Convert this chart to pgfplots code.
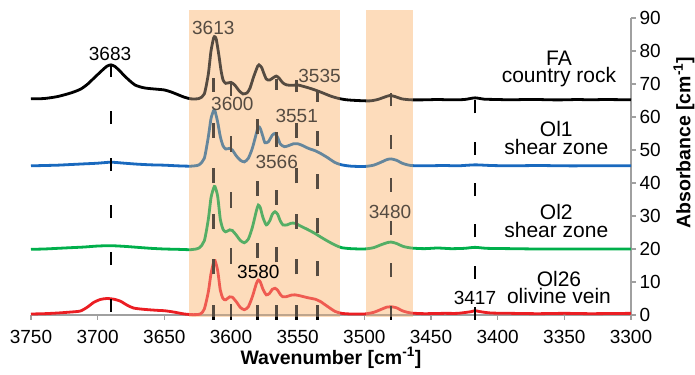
\documentclass[border=0pt]{standalone}
\usepackage{fontspec}
\setmainfont{Liberation Sans}
\usepackage{pgfplots}
\pgfplotsset{compat=1.18}
\definecolor{bandmul}{RGB}{252,218,184}
\definecolor{bandover}{RGB}{255,225,195}
\definecolor{axgray}{RGB}{160,160,160}
\definecolor{olblue}{RGB}{25,105,190}
\definecolor{olgreen}{RGB}{0,175,75}
\definecolor{olred}{RGB}{235,30,35}
\newcommand{\tkfont}{\fontsize{19}{22}\selectfont}
\newcommand{\smfont}{\fontsize{21}{17.5}\selectfont}
\begin{document}
\begin{tikzpicture}
\begin{axis}[name=ax, width=600pt, height=297pt, scale only axis,
 x dir=reverse, xmin=3300, xmax=3750, ymin=0, ymax=90,
 axis x line*=bottom, axis y line*=right,
 axis line style={axgray, line width=1.6pt, -},
 xtick={3300,3350,...,3750}, ytick={0,10,...,90},
 tick align=outside, major tick length=5pt, tick style={axgray, line width=1.2pt},
 /pgf/number format/assume math mode=true, /pgf/number format/set thousands separator={},
 tick label style={font=\tkfont},
 xticklabel style={yshift=-7pt},
 clip=false,
 xlabel={\textbf{Wavenumber [cm\textsuperscript{-1}]}},
 ylabel={\textbf{Absorbance [cm\textsuperscript{-1}]}},
 every axis x label/.style={at={(rel axis cs:0.5,0)}, yshift=-43pt, anchor=center, font=\fontsize{19.5}{22}\selectfont},
 every axis y label/.style={at={(rel axis cs:1,0.58)}, xshift=53pt, rotate=90, anchor=center, font=\fontsize{19.5}{22}\selectfont},
]
% spectra
\addplot[black, line width=2.8pt, smooth, tension=0.4] coordinates {
(3750,65.5)(3740,65.6)(3730,66.2)(3720,67.3)(3713,68.4)(3708,69.8)(3703,71.7)(3697,74.0)(3693,75.4)(3690,75.8)(3687,75.3)(3683,73.8)(3680,72.5)(3676,71.0)(3672,69.7)(3667,69.0)(3663,68.7)(3655,68.4)(3650,68.2)(3645,67.6)(3640,66.8)(3635,66.0)(3630,65.5)(3624,65.6)(3620,67.0)(3617,73)(3615,80)(3613,84.0)(3612,84.3)(3611,83.5)(3609,78.5)(3607.5,74.2)(3606,71.3)(3604,70.2)(3600,70.5)(3597,69.6)(3594,68.0)(3591,67.0)(3588,67.3)(3585.8,68.7)(3583,72.2)(3580,75.4)(3579,75.8)(3577,75.0)(3575.8,73.7)(3573.5,71.5)(3571,71.2)(3568,72.0)(3566,72.4)(3564,71.8)(3561,70.3)(3558,69.7)(3554,69.6)(3550,69.7)(3545,69.2)(3540,68.6)(3535,67.9)(3530,67.1)(3525,66.3)(3520,65.7)(3515,65.3)(3510,65.1)(3500,64.9)(3495,64.9)(3490,65.3)(3485,66.0)(3481,66.5)(3477,66.2)(3472,65.5)(3465,65.2)(3455,65.2)(3445,65.3)(3435,65.2)(3425,65.3)(3417,65.8)(3410,65.4)(3400,65.3)(3390,65.2)(3380,65.3)(3370,65.3)(3360,65.2)(3350,65.2)(3340,65.3)(3330,65.2)(3320,65.3)(3300,65.2)};
\addplot[olblue, line width=2.8pt, smooth, tension=0.4] coordinates {
(3750,45.2)(3740,45.3)(3730,45.4)(3720,45.6)(3710,45.8)(3700,46.0)(3690,46.3)(3680,46.0)(3670,45.7)(3660,45.5)(3650,45.4)(3640,45.2)(3630,45.1)(3624,45.5)(3620,47.5)(3617,54)(3615,59.5)(3613,62.0)(3612,61.8)(3610,58.5)(3608,54.0)(3606,51.3)(3604,50.3)(3601,50.5)(3599,50.0)(3596,48.2)(3593,46.9)(3590,46.4)(3587,47.5)(3584,50.5)(3581,55)(3579.5,57.1)(3578,56.5)(3576,54)(3574.5,52.2)(3572,52.5)(3569,54.5)(3567,55.0)(3565,53.8)(3563,51.8)(3560,51.0)(3557,51.3)(3553,51.9)(3550,51.9)(3546,51.3)(3542,50.5)(3537,49.8)(3533,49.0)(3528,47.8)(3522,46.2)(3517,45.5)(3510,45.1)(3500,45.0)(3493,45.4)(3488,46.2)(3483,47.1)(3480,47.3)(3476,46.9)(3471,45.9)(3465,45.3)(3455,45.2)(3440,45.3)(3430,45.2)(3417,45.5)(3405,45.3)(3390,45.2)(3370,45.3)(3350,45.2)(3330,45.2)(3300,45.2)};
\addplot[olgreen, line width=2.8pt, smooth, tension=0.4] coordinates {
(3750,19.9)(3740,20.0)(3730,20.2)(3720,20.4)(3710,20.6)(3700,20.9)(3690,21.0)(3680,20.8)(3670,20.5)(3660,20.2)(3650,20.0)(3640,19.9)(3630,19.8)(3624,20.3)(3620,22.5)(3617,29)(3615,35.5)(3613,38.5)(3612,38.9)(3610,36)(3608,29)(3606,26.0)(3604,25.2)(3601,25.8)(3599,25.6)(3596,24.2)(3593,22.6)(3590,21.9)(3587,23.0)(3584,26.5)(3581,31.5)(3579.5,33.3)(3578,32.5)(3576,29.5)(3573.5,27.3)(3571,28.5)(3569,30.5)(3567,31.3)(3565,30.5)(3563,28.5)(3561,27.3)(3558,27.3)(3555,27.8)(3552,27.8)(3548,27.0)(3542,25.8)(3537,24.7)(3533,23.7)(3528,22.5)(3522,21.2)(3517,20.4)(3510,20.1)(3500,20.0)(3493,20.4)(3488,21.2)(3483,21.9)(3480,22.1)(3476,21.7)(3471,20.8)(3465,20.3)(3455,20.1)(3445,20.3)(3435,20.1)(3425,20.2)(3417,20.5)(3408,20.2)(3390,20.1)(3370,20.0)(3350,20.0)(3330,20.0)(3300,20.0)};
\addplot[olred, line width=2.8pt, smooth, tension=0.4] coordinates {
(3750,0.3)(3740,0.4)(3730,0.6)(3720,0.9)(3713,1.2)(3708,2.3)(3703,3.8)(3698,4.7)(3693,5.0)(3688,4.8)(3683,4.2)(3678,3.0)(3673,2.1)(3665,1.7)(3655,1.4)(3650,1.3)(3643,0.9)(3635,0.3)(3628,0.1)(3623,0.3)(3620,1.8)(3617,7)(3615,12.5)(3613,16.0)(3612,16.5)(3610,13.5)(3608,7.5)(3606,5.0)(3604,4.6)(3601,5.5)(3599,5.4)(3596,4.0)(3593,2.3)(3590,1.6)(3587,2.5)(3584,5.5)(3581,9.5)(3579.5,10.6)(3578,10.0)(3576,7.8)(3573.5,6.1)(3571,6.6)(3569,7.8)(3567,8.1)(3565,7.5)(3563,6.2)(3561,5.5)(3558,5.6)(3555,6.0)(3552,6.1)(3548,5.8)(3542,5.2)(3537,4.8)(3533,4.1)(3528,2.7)(3522,1.1)(3517,0.5)(3510,0.3)(3500,0.3)(3493,0.8)(3488,1.6)(3483,2.4)(3480,2.5)(3476,2.2)(3471,1.2)(3465,0.6)(3455,0.4)(3440,0.5)(3430,0.5)(3420,1.0)(3417,1.3)(3413,1.0)(3405,0.6)(3390,0.5)(3370,0.4)(3350,0.5)(3330,0.4)(3300,0.5)};
% dashed marker lines
\addplot[black, line width=2.9pt, dash pattern=on 13pt off 34pt] coordinates {(3690,0.9)(3690,76)};
\addplot[black, line width=2.9pt, dash pattern=on 15pt off 30.6pt] coordinates {(3613,-1.5)(3613,71.8)};
\addplot[black, line width=2.9pt, dash pattern=on 16pt off 40pt] coordinates {(3600,-1.5)(3600,70.5)};
\addplot[black, line width=2.9pt, dash pattern=on 15pt off 47pt] coordinates {(3580,-1.5)(3580,72)};
\addplot[black, line width=2.9pt, dash pattern=on 15pt off 42.5pt] coordinates {(3566,-1.5)(3566,71.5)};
\addplot[black, line width=2.9pt, dash pattern=on 15pt off 30.5pt] coordinates {(3551,-1.5)(3551,71.2)};
\addplot[black, line width=2.9pt, dash pattern=on 15pt off 28.6pt] coordinates {(3535,-1.5)(3535,68.2)};
\addplot[black, line width=2.9pt, dash pattern=on 14pt off 28.7pt] coordinates {(3480,-1.5)(3480,67.3)};
\addplot[black, line width=2.9pt, dash pattern=on 13pt off 28.3pt] coordinates {(3417,-1.5)(3417,65.2)};
% labels beneath the bands
\node[font=\tkfont] at (axis cs:3613.3,87.1) {3613};
\node[font=\tkfont] at (axis cs:3599,63.9) {3600};
\node[font=\tkfont] at (axis cs:3533.6,72.4) {3535};
\node[font=\tkfont] at (axis cs:3550.7,60.3) {3551};
\node[font=\tkfont] at (axis cs:3565.7,46.5) {3566};
\node[font=\tkfont] at (axis cs:3480.7,31.3) {3480};
% bands: multiply layer, then light peach veil
\addplot[fill=bandmul, draw=none, blend mode=multiply] coordinates {(3631.5,-0.6)(3631.5,92.5)(3518,92.5)(3518,-0.6)} -- cycle;
\addplot[fill=bandmul, draw=none, blend mode=multiply] coordinates {(3499,-0.6)(3499,92.5)(3463.5,92.5)(3463.5,-0.6)} -- cycle;
\addplot[fill=bandover, draw=none, fill opacity=0.333] coordinates {(3631.5,-0.6)(3631.5,92.5)(3518,92.5)(3518,-0.6)} -- cycle;
\addplot[fill=bandover, draw=none, fill opacity=0.333] coordinates {(3499,-0.6)(3499,92.5)(3463.5,92.5)(3463.5,-0.6)} -- cycle;
% labels on top
\node[font=\tkfont] at (axis cs:3690.7,79.1) {3683};
\node[font=\tkfont] at (axis cs:3579.5,12.9) {3580};
\node[font=\tkfont] at (axis cs:3417,5.3) {3417};
\node[font=\smfont, inner sep=0pt, align=center] at (axis cs:3354,74.6) {FA\\country rock};
\node[font=\smfont, inner sep=0pt, align=center] at (axis cs:3356,53.7) {Ol1\\shear zone};
\node[font=\smfont, inner sep=0pt, align=center] at (axis cs:3356,28.5) {Ol2\\shear zone};
\node[font=\smfont, inner sep=0pt, align=center] at (axis cs:3354,8.3) {Ol26\\olivine vein};
\end{axis}
\pgfresetboundingbox
\path[use as bounding box] ([xshift=-31pt,yshift=-60pt]ax.south west) rectangle ([xshift=64pt,yshift=18pt]ax.north east);
\end{tikzpicture}
\end{document}
